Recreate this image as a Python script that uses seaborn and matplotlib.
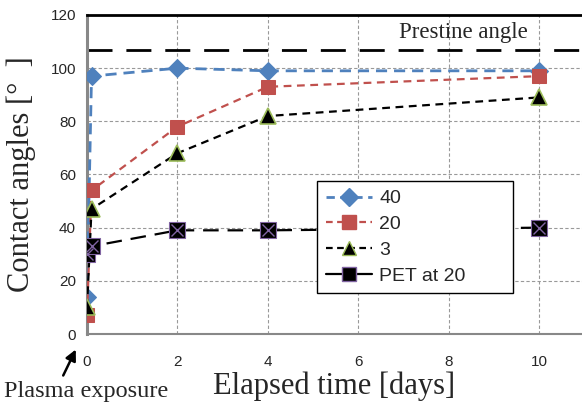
import numpy as np
import pandas as pd
import seaborn as sns
import matplotlib
matplotlib.use("Agg")
import matplotlib.pyplot as plt
from matplotlib.lines import Line2D

# ---- data ----
x_40 = [0.0, 0.1, 2, 4, 10]
y_40 = [14, 97, 100, 99, 99]
x_20 = [0.0, 0.1, 2, 4, 10]
y_20 = [7, 54, 78, 93, 97]
x_3 = [0.0, 0.1, 2, 4, 10]
y_3 = [10, 47, 68, 82, 89]
x_pet = [0.0, 0.1, 2, 4, 10]
y_pet = [30, 33, 39, 39, 40]
pristine_angle = 107
labels = ["40", "20", "3", "PET at 20"]
x_ticks = [0, 2, 4, 6, 8, 10]
y_ticks = [0, 20, 40, 60, 80, 100, 120]

sns.set_style("white")
plt.rcParams['font.family'] = ['Liberation Sans', 'DejaVu Sans']

fig = plt.figure(figsize=(5.82, 4.04), dpi=100)
ax = fig.add_axes([87/582, 1-334/404, (582-87)/582, (334-15)/404])

blue = "#4F81BD"
red = "#C0504D"
green = "#9BBB59"
purple = "#8064A2"

ax.axhline(pristine_angle, color="black", lw=2, dashes=(9, 5), zorder=2)

sns.lineplot(x=x_40, y=y_40, ax=ax, color=blue, lw=2, marker="D", markersize=9,
             markerfacecolor=blue, markeredgecolor=blue, zorder=5)
ax.lines[-1].set_dashes((4, 2.5))
sns.lineplot(x=x_20, y=y_20, ax=ax, color=red, lw=1.6, marker="s", markersize=10,
             markerfacecolor=red, markeredgecolor=red, zorder=5)
ax.lines[-1].set_dashes((3.5, 2.5))
sns.lineplot(x=x_3, y=y_3, ax=ax, color="black", lw=1.6, marker="^", markersize=12,
             markerfacecolor="black", markeredgecolor=green, markeredgewidth=1.2, zorder=6)
ax.lines[-1].set_dashes((3.5, 2.5))
sns.lineplot(x=x_pet, y=y_pet, ax=ax, color="black", lw=1.6, zorder=4)
ax.lines[-1].set_dashes((7, 4))
ax.plot(x_pet, y_pet, ls="none", marker="s", markersize=11, markerfacecolor="black",
        markeredgecolor=purple, markeredgewidth=0.8, zorder=7)
ax.plot(x_pet, y_pet, ls="none", marker="x", markersize=9, markeredgecolor=purple,
        markeredgewidth=1.0, zorder=8)

ax.set_xlim(0, 10.95)
ax.set_ylim(0, 120)
ax.set_xticks(x_ticks)
ax.set_xticks([1, 3, 5, 7, 9], minor=True)
ax.set_yticks(y_ticks)
ax.grid(True, which="major", color="#999999", ls=(0, (3, 2)), lw=0.8)
ax.tick_params(axis="x", which="major", length=0, pad=15, labelsize=11)
ax.tick_params(axis="x", which="minor", length=4, direction="in", color="#888888", width=1)
ax.tick_params(axis="y", which="major", length=5, direction="out", color="#888888",
               width=1, labelsize=11, pad=3)

ax.spines["right"].set_visible(False)
ax.spines["left"].set_color("#888888")
ax.spines["left"].set_linewidth(2.2)
ax.spines["bottom"].set_color("#888888")
ax.spines["bottom"].set_linewidth(1.5)
ax.spines["top"].set_color("black")
ax.spines["top"].set_linewidth(2)

serif = ['Liberation Serif', 'DejaVu Serif']
ax.set_xlabel("Elapsed time [days]", family=serif, fontsize=22, labelpad=2)
ax.set_ylabel("Contact angles [°  ]", family=serif, fontsize=22, labelpad=10)
ax.text(6.9, 109.3, "Prestine angle", family=serif, fontsize=16.5, va="bottom", ha="left")

ax.annotate("", xy=(77/582, 1-347/404), xycoords="figure fraction",
            xytext=(62/582, 1-378/404), textcoords="figure fraction",
            arrowprops=dict(arrowstyle="-|>", color="black", lw=1.8, mutation_scale=16))
fig.text(4/582, 1-391/404, "Plasma exposure", family=serif, fontsize=17.5, va="center", ha="left")

handles = [
    Line2D([], [], color=blue, lw=2, dashes=(3, 2), marker="D", markersize=9,
           markerfacecolor=blue, markeredgecolor=blue),
    Line2D([], [], color=red, lw=1.6, dashes=(3, 2), marker="s", markersize=10,
           markerfacecolor=red, markeredgecolor=red),
    Line2D([], [], color="black", lw=1.6, dashes=(3, 2), marker="^", markersize=10,
           markerfacecolor="black", markeredgecolor=green),
    Line2D([], [], color="black", lw=1.6, marker="s", markersize=10,
           markerfacecolor="black", markeredgecolor=purple),
]
x0 = (317-87)/(582-87)
w = (513-317)/(582-87)
y1 = 1-(181-15)/319
leg = ax.legend(handles, labels, loc="upper left", mode="expand",
                bbox_to_anchor=(x0, y1 - 0.3, w, 0.3),
                bbox_transform=ax.transAxes, fontsize=14, frameon=True, fancybox=False,
                edgecolor="black", framealpha=1, handlelength=2.4, labelspacing=0.42,
                borderpad=0.45, handletextpad=0.35, borderaxespad=0)
leg.get_frame().set_linewidth(1)
leg.set_zorder(10)

fig.savefig("out.png", dpi=100)
